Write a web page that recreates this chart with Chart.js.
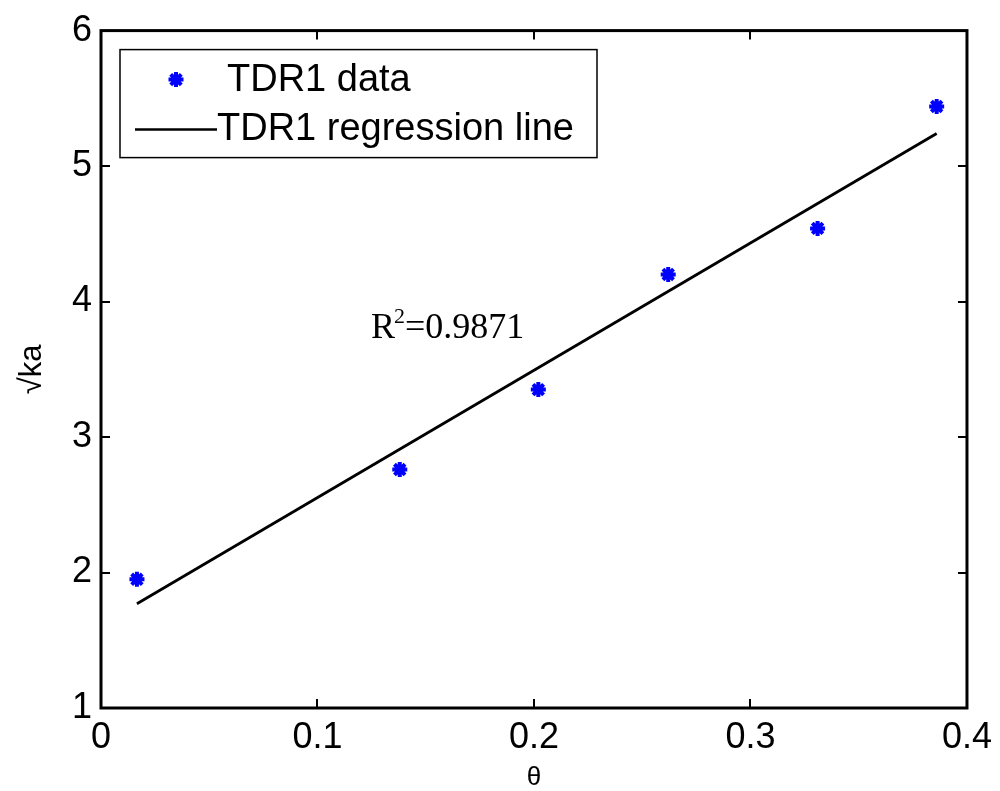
<!DOCTYPE html>
<html>
<head>
<meta charset="utf-8">
<script src="https://cdn.jsdelivr.net/npm/chart.js@4/dist/chart.umd.min.js"></script>
<style>
  html, body { margin: 0; padding: 0; background: #fff; }
  #wrap { width: 1000px; height: 791px; position: relative; }
</style>
</head>
<body>
<div id="wrap"><canvas id="c" width="1000" height="791"></canvas></div>
<script>
// Measured water content (theta) against sqrt(ka) for probe TDR1
const theta = [0.0166, 0.138, 0.202, 0.262, 0.331, 0.386];
const sqrtKa = [1.95, 2.76, 3.35, 4.20, 4.54, 5.44];

// Fitted regression line end points
const fitX = [0.0166, 0.386];
const fitY = [1.77, 5.24];

// Axis ticks
const xTicks = [0, 0.1, 0.2, 0.3, 0.4];
const yTicks = [1, 2, 3, 4, 5, 6];

// Goodness-of-fit annotation and its anchor (data coordinates)
const r2Value = '0.9871';
const r2Anchor = [0.1247, 3.73];

const seriesNames = ['TDR1 data', 'TDR1 regression line'];

const sans = "'Liberation Sans', Arial, sans-serif";
const serif = "'Liberation Serif', 'Times New Roman', serif";

// Box around the plot with inward tick marks on all four sides
const boxPlugin = {
  id: 'box',
  afterDatasetsDraw(chart) {
    const { ctx, chartArea: a, scales } = chart;
    const tl = 9;
    ctx.save();
    ctx.strokeStyle = '#000';
    ctx.lineWidth = 2;
    ctx.beginPath();
    scales.x.ticks.forEach(t => {
      const px = Math.round(scales.x.getPixelForValue(t.value));
      ctx.moveTo(px, a.bottom); ctx.lineTo(px, a.bottom - tl);
      ctx.moveTo(px, a.top); ctx.lineTo(px, a.top + tl);
    });
    scales.y.ticks.forEach(t => {
      const py = Math.round(scales.y.getPixelForValue(t.value));
      ctx.moveTo(a.left, py); ctx.lineTo(a.left + tl, py);
      ctx.moveTo(a.right, py); ctx.lineTo(a.right - tl, py);
    });
    ctx.stroke();
    ctx.lineWidth = 3;
    ctx.strokeRect(a.left, a.top, a.right - a.left, a.bottom - a.top);
    ctx.restore();
  }
};

// R^2 text with superscript
const r2Plugin = {
  id: 'r2',
  afterDatasetsDraw(chart) {
    const { ctx, scales } = chart;
    const x = scales.x.getPixelForValue(r2Anchor[0]);
    const y = scales.y.getPixelForValue(r2Anchor[1]);
    ctx.save();
    ctx.fillStyle = '#000';
    ctx.textBaseline = 'alphabetic';
    ctx.textAlign = 'left';
    ctx.font = '36px ' + serif;
    ctx.fillText('R', x, y);
    const wR = ctx.measureText('R').width;
    ctx.font = '22px ' + serif;
    ctx.fillText('2', x + wR - 1, y - 15);
    const w2 = ctx.measureText('2').width;
    ctx.font = '36px ' + serif;
    ctx.fillText('=' + r2Value, x + wR + w2 - 1, y);
    ctx.restore();
  }
};

// Legend box in the upper left of the plot
const legendPlugin = {
  id: 'boxLegend',
  afterDatasetsDraw(chart) {
    const { ctx, chartArea: a } = chart;
    const bx = a.left + 19, by = a.top + 19, bw = 477, bh = 108;
    ctx.save();
    ctx.fillStyle = '#fff';
    ctx.fillRect(bx, by, bw, bh);
    ctx.strokeStyle = '#000';
    ctx.lineWidth = 1.5;
    ctx.strokeRect(bx, by, bw, bh);

    // row 1: marker
    const ds0 = chart.data.datasets[0];
    ctx.strokeStyle = ds0.borderColor;
    ctx.fillStyle = ds0.backgroundColor;
    ctx.lineWidth = ds0.pointBorderWidth;
    Chart.helpers.drawPoint(ctx, {
      pointStyle: ds0.pointStyle, radius: ds0.pointRadius, rotation: 0,
      borderWidth: ds0.pointBorderWidth
    }, bx + 56, by + 30);

    // row 2: line sample
    ctx.strokeStyle = '#000';
    ctx.lineWidth = 2.5;
    ctx.beginPath();
    ctx.moveTo(bx + 15, by + 80);
    ctx.lineTo(bx + 97, by + 80);
    ctx.stroke();

    ctx.fillStyle = '#000';
    ctx.font = '38px ' + sans;
    ctx.textBaseline = 'middle';
    ctx.textAlign = 'left';
    ctx.fillText(chart.data.datasets[0].label, bx + 107, by + 31);
    ctx.fillText(chart.data.datasets[1].label, bx + 97, by + 80);
    ctx.restore();
  }
};

new Chart(document.getElementById('c'), {
  type: 'scatter',
  data: {
    datasets: [
      {
        label: seriesNames[0],
        data: theta.map((v, i) => ({ x: v, y: sqrtKa[i] })),
        showLine: false,
        pointStyle: 'star',
        pointRadius: 7.5,
        pointBorderWidth: 4,
        borderColor: '#0000ff',
        backgroundColor: '#0000ff'
      },
      {
        label: seriesNames[1],
        data: fitX.map((v, i) => ({ x: v, y: fitY[i] })),
        showLine: true,
        pointRadius: 0,
        borderColor: '#000',
        borderWidth: 2.8,
        fill: false
      }
    ]
  },
  options: {
    responsive: false,
    animation: false,
    layout: { padding: { left: 0, right: 30, top: 28, bottom: 0 } },
    plugins: { legend: { display: false }, tooltip: { enabled: false } },
    scales: {
      x: {
        type: 'linear',
        min: xTicks[0],
        max: xTicks[xTicks.length - 1],
        afterFit(s) { s.height = 83; },
        afterBuildTicks(s) { s.ticks = xTicks.map(v => ({ value: v })); },
        grid: { display: false, drawTicks: false },
        border: { display: false },
        ticks: {
          color: '#000',
          padding: 8,
          maxRotation: 0,
          font: { family: sans, size: 36 },
          callback: v => String(v)
        },
        title: {
          display: true,
          text: 'θ',
          color: '#000',
          font: { family: sans, size: 26, lineHeight: 1 },
          padding: { top: 0, bottom: 0 }
        }
      },
      y: {
        type: 'linear',
        min: yTicks[0],
        max: yTicks[yTicks.length - 1],
        afterFit(s) { s.width = 101; },
        afterBuildTicks(s) { s.ticks = yTicks.map(v => ({ value: v })); },
        grid: { display: false, drawTicks: false },
        border: { display: false },
        ticks: {
          color: '#000',
          padding: 9,
          font: { family: sans, size: 36 },
          callback: v => String(v)
        },
        title: {
          display: true,
          text: '√ka',
          color: '#000',
          font: { family: sans, size: 31, lineHeight: 1.2 },
          padding: { top: 14, bottom: 0 }
        }
      }
    }
  },
  plugins: [boxPlugin, r2Plugin, legendPlugin]
});
</script>
</body>
</html>
